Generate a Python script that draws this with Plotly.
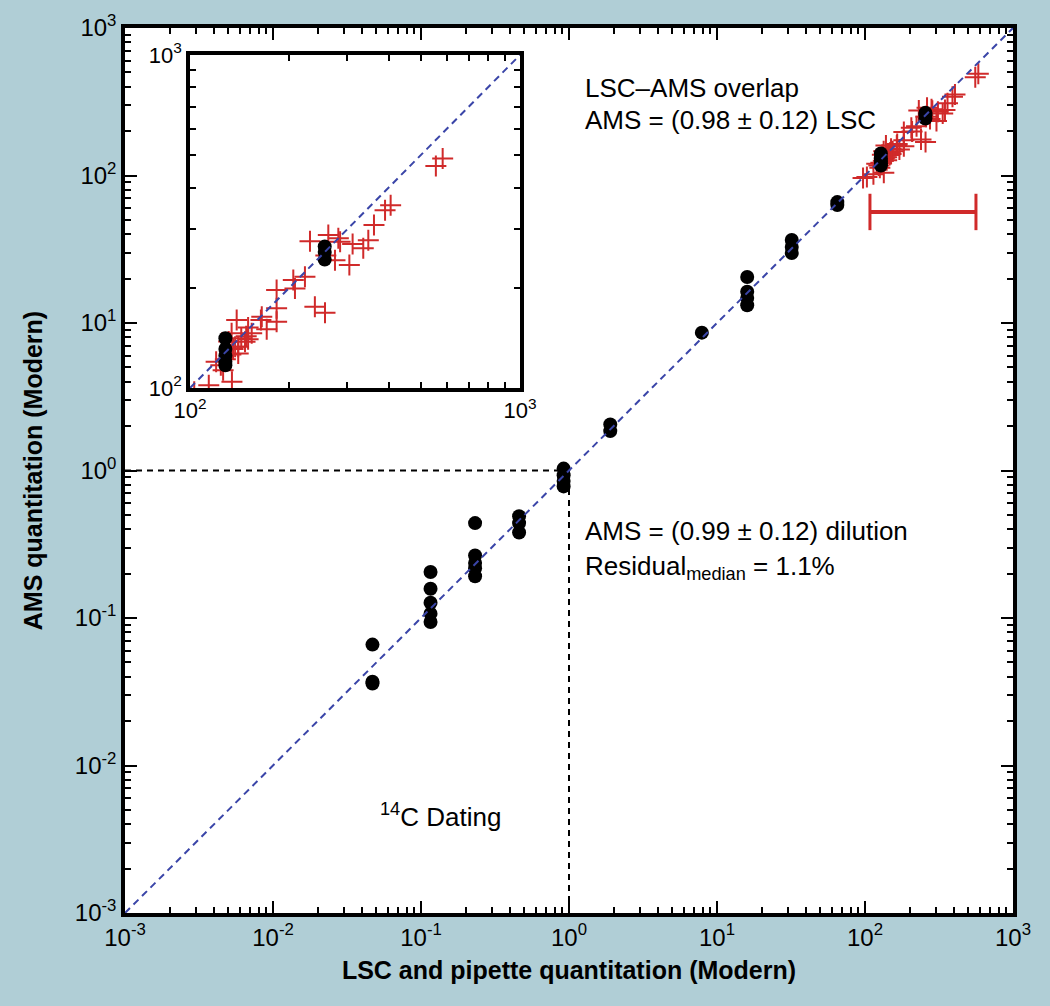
import plotly.graph_objects as go

# ---------------- data ----------------
dot_x = [0.047, 0.047, 0.047,
         0.116, 0.116, 0.116, 0.116, 0.116,
         0.232, 0.232, 0.232, 0.232, 0.232,
         0.46, 0.46, 0.46,
         0.92, 0.92, 0.92, 0.92,
         1.9, 1.9,
         7.9,
         16, 16, 16, 16,
         32, 32, 32,
         65, 65,
         128, 128, 128, 128, 128,
         256, 256, 256]
dot_y = [0.066, 0.037, 0.036,
         0.205, 0.158, 0.127, 0.107, 0.094,
         0.44, 0.265, 0.236, 0.217, 0.192,
         0.49, 0.44, 0.38,
         1.03, 0.93, 0.85, 0.78,
         2.05, 1.85,
         8.6,
         20.5, 16.3, 14.8, 13.2,
         36.5, 32.8, 29.8,
         66, 63,
         141, 131, 125, 120, 117,
         266, 256, 243]

cross_x = [97, 103, 114, 134, 120, 124, 128, 133, 135, 138.5, 133.7, 140, 146.8,
           153.8, 143, 148, 150, 137, 165, 164, 170.8, 183, 183, 183, 205.6, 208,
           223, 239, 256.5, 231, 262.5, 275, 281.5, 285, 311, 304, 335, 347, 361,
           390, 405.5, 556, 583, 258, 140, 126, 131, 150]
cross_y = [96, 97.5, 102, 104.5, 120, 117, 122, 126, 131, 160, 146, 127, 137.8,
           146, 141, 143, 140, 133, 163.8, 160, 150, 197, 173.5, 158, 211, 199,
           216, 175.5, 168.4, 276, 288, 242, 281.6, 275, 270.6, 234, 263, 278, 308.6,
           342, 354, 464, 489, 250, 133, 113, 138, 152]

range_bar_x = [108, 562]
range_bar_y = [56.6, 56.6]

diag_main = [1e-3, 1e3]
diag_inset = [1e2, 1e3]
dating_h_x = [1e-3, 1]
dating_h_y = [1, 1]
dating_v_x = [1, 1]
dating_v_y = [1e-3, 1]

main_tickvals = [1e-3, 1e-2, 1e-1, 1, 10, 100, 1000]
main_ticktext = ["10<sup>-3</sup>", "10<sup>-2</sup>", "10<sup>-1</sup>", "10<sup>0</sup>",
                 "10<sup>1</sup>", "10<sup>2</sup>", "10<sup>3</sup>"]
inset_tickvals = [100, 1000]
inset_ticktext = ["10<sup>2</sup>", "10<sup>3</sup>"]

# ---------------- style ----------------
RED = "#d02a2a"
BLUE = "#3a45a8"
FONT = "Liberation Sans, Arial, Helvetica, sans-serif"
BG = "#b0ced6"

fig = go.Figure()

def add_series(xa, ya):
    fig.add_trace(go.Scatter(x=cross_x, y=cross_y, mode="markers", xaxis=xa, yaxis=ya,
                             marker=dict(symbol="cross-thin", size=15, color=RED,
                                         line=dict(color=RED, width=2)),
                             showlegend=False, hoverinfo="skip"))
    fig.add_trace(go.Scatter(x=dot_x, y=dot_y, mode="markers", xaxis=xa, yaxis=ya,
                             marker=dict(symbol="circle", size=14, color="black"),
                             showlegend=False, hoverinfo="skip"))

# main
add_series("x", "y")
fig.add_trace(go.Scatter(x=range_bar_x, y=range_bar_y, mode="lines+markers",
                         line=dict(color=RED, width=4),
                         marker=dict(symbol="line-ns", size=26,
                                     line=dict(color=RED, width=3)),
                         showlegend=False, hoverinfo="skip"))
fig.add_trace(go.Scatter(x=dating_h_x, y=dating_h_y, mode="lines",
                         line=dict(color="black", width=2, dash="6px,5px"),
                         showlegend=False, hoverinfo="skip"))
fig.add_trace(go.Scatter(x=dating_v_x, y=dating_v_y, mode="lines",
                         line=dict(color="black", width=2, dash="6px,5px"),
                         showlegend=False, hoverinfo="skip"))
fig.add_trace(go.Scatter(x=diag_main, y=diag_main, mode="lines",
                         line=dict(color=BLUE, width=2, dash="7px,5px"),
                         showlegend=False, hoverinfo="skip"))

# inset
add_series("x2", "y2")
fig.add_trace(go.Scatter(x=diag_inset, y=diag_inset, mode="lines", xaxis="x2", yaxis="y2",
                         line=dict(color=BLUE, width=2, dash="7px,5px"),
                         showlegend=False, hoverinfo="skip"))

W, H = 1050, 1006
L, R, T, B = 125, 1013, 28, 913
pw, ph = R - L, B - T

def dom_x(px0, px1):
    return [(px0 - L) / pw, (px1 - L) / pw]

def dom_y(py0, py1):
    return [(B - py1) / ph, (B - py0) / ph]

axis_common = dict(type="log", showline=True, linecolor="black", linewidth=3.5,
                   mirror="allticks", ticks="inside", ticklen=12, tickwidth=2,
                   tickcolor="black", showgrid=False, zeroline=False,
                   tickfont=dict(family=FONT, size=24, color="black"))

fig.update_layout(
    width=W, height=H,
    margin=dict(l=L, r=W - R, t=T, b=H - B),
    paper_bgcolor=BG, plot_bgcolor="white",
    font=dict(family=FONT, color="black"),
    xaxis=dict(**axis_common, range=[-3, 3], tickmode="array",
               tickvals=main_tickvals, ticktext=main_ticktext,
               minor=dict(dtick="D1", ticks="inside", ticklen=6, tickwidth=2,
                          tickcolor="black", showgrid=False),
               title=dict(text="<b>LSC and pipette quantitation (Modern)</b>",
                          font=dict(family=FONT, size=25), standoff=13)),
    yaxis=dict(**axis_common, range=[-3, 3], tickmode="array",
               tickvals=main_tickvals, ticktext=main_ticktext,
               minor=dict(dtick="D1", ticks="inside", ticklen=6, tickwidth=2,
                          tickcolor="black", showgrid=False),
               title=dict(text="<b>AMS quantitation (Modern)</b>",
                          font=dict(family=FONT, size=25), standoff=26)),
    xaxis2=dict(type="log", range=[2, 3], domain=dom_x(190, 520), anchor="y2",
                showline=True, linecolor="black", linewidth=3.5, mirror="allticks",
                ticks="inside", ticklen=8, tickwidth=2, tickcolor="black",
                showgrid=False, zeroline=False, tickmode="array",
                tickvals=inset_tickvals, ticktext=inset_ticktext,
                tickfont=dict(family=FONT, size=22, color="black"),
                minor=dict(dtick="D1", ticks="inside", ticklen=6, tickwidth=2,
                           tickcolor="black", showgrid=False)),
    yaxis2=dict(type="log", range=[2, 3], domain=dom_y(55, 388), anchor="x2",
                showline=True, linecolor="black", linewidth=3.5, mirror="allticks",
                ticks="inside", ticklen=8, tickwidth=2, tickcolor="black",
                showgrid=False, zeroline=False, tickmode="array",
                tickvals=inset_tickvals, ticktext=inset_ticktext,
                tickfont=dict(family=FONT, size=22, color="black"),
                minor=dict(dtick="D1", ticks="inside", ticklen=6, tickwidth=2,
                           tickcolor="black", showgrid=False)),
)

# white background for inset
fig.add_shape(type="rect", xref="paper", yref="paper",
              x0=dom_x(190, 520)[0], x1=dom_x(190, 520)[1],
              y0=dom_y(55, 388)[0], y1=dom_y(55, 388)[1],
              fillcolor="white", line=dict(width=0), layer="below")

def note(text, lx, ly):
    fig.add_annotation(text=text, x=lx, y=ly, xref="x", yref="y",
                       xanchor="left", yanchor="middle", showarrow=False,
                       font=dict(family=FONT, size=26, color="black"))

note("LSC\u2013AMS overlap", 0.095, 2.593)
note("AMS = (0.98 \u00b1 0.12) LSC", 0.095, 2.376)
note("AMS = (0.99 \u00b1 0.12) dilution", 0.095, -0.410)
note("Residual<sub>median</sub> = 1.1%", 0.095, -0.66)
note("<sup>14</sup>C Dating", -1.291, -2.336)

fig.write_html("out.html", config={"displayModeBar": False},
               post_script="document.body.style.margin='0';"
                           "document.body.style.background='" + BG + "';")
